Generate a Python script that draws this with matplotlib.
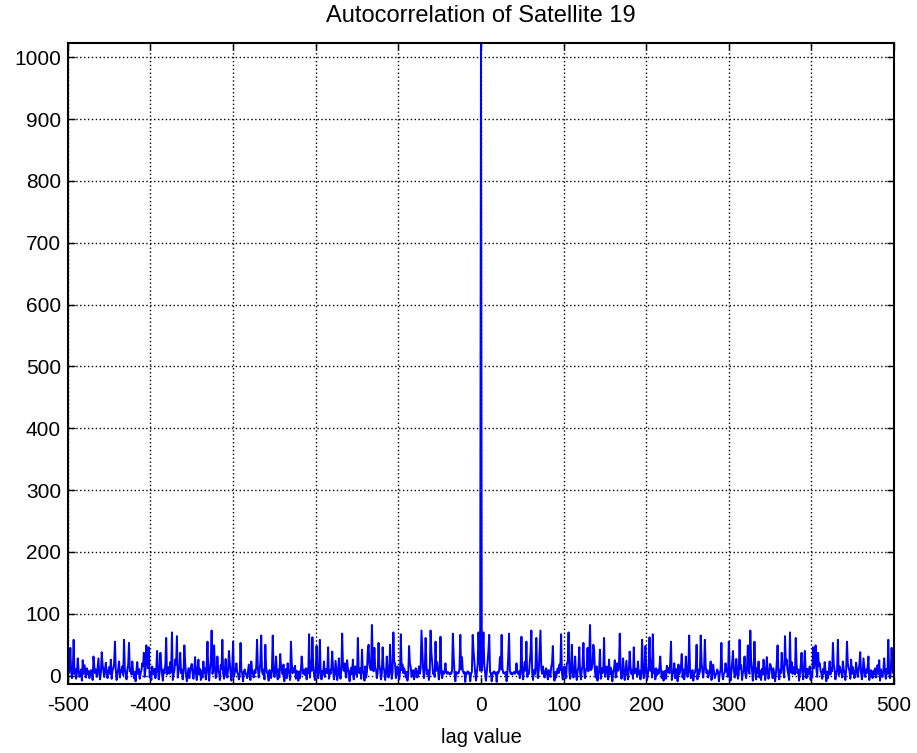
import numpy as np
import matplotlib
matplotlib.use("Agg")
import matplotlib.pyplot as plt

# Autocorrelation for lags 0..500 (the curve is
# symmetric about lag 0, so the negative side mirrors these values).
corr_pos = [
    1023, 8, 30, 70, 18, 4, -8, 5, 22, 40, 66, 6, 3, -9, 5, 4, 7, 3, 5, -10, 6, 4, 8, 30, 10,
    66, 12, 4, 5, 3, 6, -9, 5, 30, 68, 8, 3, 5, 2, 4, 6, 3, 5, 20, 6, 3, 7, -4, 11, 63,
    5, -6, 10, 22, 8, 55, -2, 6, 3, 20, 38, 73, 5, -7, 9, 2, 15, 61, 8, -4, 10, 40, 73, 12, 3,
    15, 4, -3, 7, 12, 2, -6, 9, 3, -2, 14, 20, 48, 3, -8, 6, -3, 7, 12, 4, 18, 9, 67, 5, -6,
    8, 15, 2, -4, 20, 22, 70, 6, -5, 12, 50, 4, -3, 10, 31, 2, -7, 8, 14, 46, 3, -6, 9, 17, 53,
    5, -4, 10, 12, 45, 7, 26, 82, 9, 11, 18, 50, 40, 6, -3, 15, -8, 3, 8, 42, -5, 12, 4, 7, 61,
    -2, 3, 15, 9, -6, 26, 2, 13, 7, -9, 6, 11, 25, -3, 4, 20, 8, 16, 68, 9, -5, 2, 28, 4, -7,
    9, 24, 2, -6, 10, 39, 14, 3, 9, -5, 46, 4, 7, 11, -2, 23, 2, 8, -6, 3, 58, 12, -4, 6, 48,
    9, -7, 2, 17, 62, 8, 24, -3, 67, 4, 10, -6, 12, 1, 9, 3, 13, 31, 7, -4, 7, -8, 2, 8, -5,
    16, 6, 12, 4, 20, 55, -7, 3, 6, 20, -4, 11, 5, -9, 18, 2, 7, 14, 35, -3, 10, -6, 4, 31, 8,
    -2, 6, 65, 12, -4, 1, 9, -8, 3, 5, 13, 50, -6, 10, 2, 7, 65, 22, 7, -3, 11, 58, 15, 4, 9,
    -3, 2, 8, 23, -7, 3, 18, 7, -4, 1, 4, 10, 6, -9, 4, 9, 53, 2, -6, 3, 5, 20, 10, 5, -2,
    55, 14, -8, 4, 20, 40, 12, -3, 1, 27, 9, -5, 3, 58, 11, 17, -7, 5, 8, 31, 2, -4, 14, 49, 8,
    3, 73, 24, 10, -8, 7, 55, 16, -6, 12, 5, 23, -3, 8, -7, 11, 2, 26, 11, -7, 4, 30, 9, -5, 3,
    19, 15, 8, -4, 12, 2, -9, 3, 21, 49, 6, -6, 10, 4, 37, 13, 7, -3, 64, 18, 26, 9, 2, -7, 70,
    6, 22, 3, 14, 8, 2, 61, 19, 4, 10, -8, 3, 17, 37, 5, -6, 13, 40, 8, -4, 11, 2, 9, 15, -7,
    6, -3, 46, 12, 22, 49, 10, -2, 37, 16, 20, 8, 4, -5, 11, 3, 22, 9, -9, 6, -4, 8, 23, 2, 12,
    7, 53, 18, 10, -6, 4, 9, 58, 1, 15, 6, 9, -3, 23, 11, 4, -7, 9, 55, 20, 12, 8, -5, 26, 3,
    14, 7, -4, 2, 21, 11, -2, 8, 18, 38, 5, -6, 3, 28, 13, -2, 10, 4, 15, 31, -7, 6, 9, 2, -4,
    8, 3, 12, -3, 6, 17, 3, 25, -8, 10, 2, -2, 9, 28, 5, -5, 11, 3, 58, 8, -4, 6, 45, 12, 4,
    55,
]

corr = corr_pos[:0:-1] + corr_pos
n_side = len(corr_pos) - 1
lags = np.arange(-n_side, n_side + 1)

x_ticks = list(range(-500, 501, 100))
y_ticks = list(range(0, 1001, 100))

plt.rcParams['font.family'] = ['Liberation Sans', 'DejaVu Sans']
plt.rcParams['axes.unicode_minus'] = False

fig = plt.figure(figsize=(9.17, 7.53), dpi=100)
ax = fig.add_axes([0.074, 0.092, 0.901, 0.851])

ax.plot(lags, corr, color="#0000ff", linewidth=1.4)

ax.set_xlim(-500, 500)
ax.set_ylim(-13, 1023)
ax.set_xticks(x_ticks)
ax.set_yticks(y_ticks)
ax.grid(True, color="black", linestyle=(0, (1.0, 1.8)), linewidth=1.0)
ax.set_axisbelow(True)

ax.tick_params(direction="in", top=True, right=True, length=5, width=1,
               labelsize=15, colors="black")
ax.tick_params(axis="x", pad=9)
ax.tick_params(axis="y", pad=5)
for s in ax.spines.values():
    s.set_linewidth(1.5)
    s.set_color("black")

ax.set_title("Autocorrelation of Satellite 19", fontsize=17, pad=15)
ax.set_xlabel("lag value", fontsize=14.5, labelpad=9)

fig.savefig("out.png", dpi=100)
